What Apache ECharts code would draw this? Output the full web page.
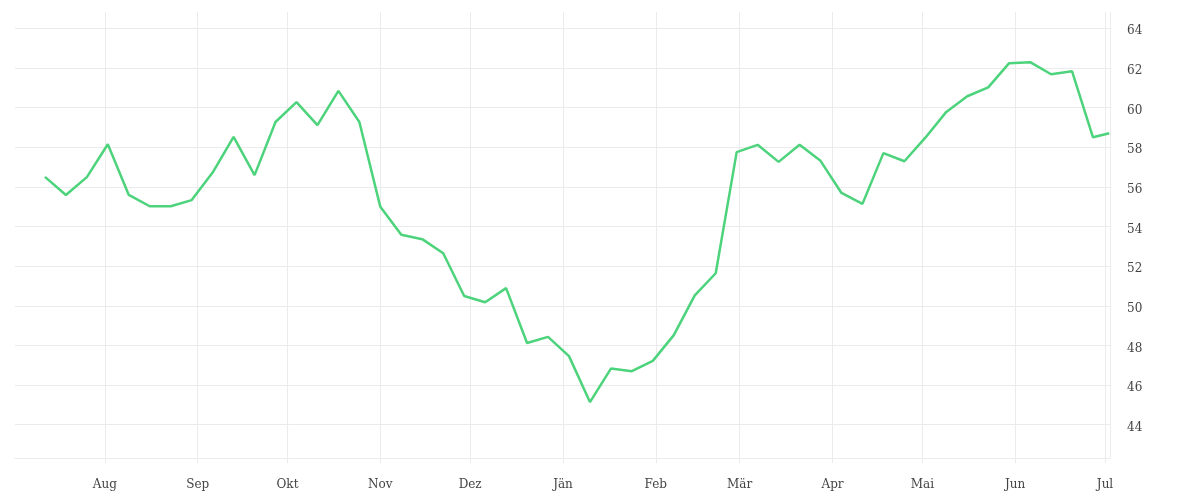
<!DOCTYPE html>
<html>
<head>
<meta charset="utf-8">
<script src="https://cdn.jsdelivr.net/npm/echarts@6/dist/echarts.min.js"></script>
<style>
html,body{margin:0;padding:0;background:#fff;}
#chart{width:1200px;height:500px;}
</style>
</head>
<body>
<div id="chart"></div>
<script>
const dates = [
  '2022-07-12','2022-07-19','2022-07-26','2022-08-02','2022-08-09','2022-08-16','2022-08-23','2022-08-30',
  '2022-09-06','2022-09-13','2022-09-20','2022-09-27','2022-10-04','2022-10-11','2022-10-18','2022-10-25',
  '2022-11-01','2022-11-08','2022-11-15','2022-11-22','2022-11-29','2022-12-06','2022-12-13','2022-12-20',
  '2022-12-27','2023-01-03','2023-01-10','2023-01-17','2023-01-24','2023-01-31','2023-02-07','2023-02-14',
  '2023-02-21','2023-02-28','2023-03-07','2023-03-14','2023-03-21','2023-03-28','2023-04-04','2023-04-11',
  '2023-04-18','2023-04-25','2023-05-02','2023-05-09','2023-05-16','2023-05-23','2023-05-30','2023-06-06',
  '2023-06-13','2023-06-20','2023-06-27','2023-07-02 10:00'
];
const values = [
  56.50,55.59,56.49,58.15,55.59,55.02,55.02,55.33,
  56.72,58.52,56.59,59.27,60.27,59.11,60.84,59.27,
  54.99,53.58,53.36,52.65,50.49,50.18,50.89,48.12,
  48.43,47.46,45.14,46.83,46.70,47.22,48.52,50.52,
  51.64,57.75,58.12,57.26,58.12,57.31,55.69,55.14,
  57.70,57.29,58.48,59.78,60.57,61.02,62.24,62.29,
  61.68,61.83,58.50,58.70
];
const monthLabels = ['Jän','Feb','Mär','Apr','Mai','Jun','Jul','Aug','Sep','Okt','Nov','Dez'];
const xRange = ['2022-07-02 00:00','2023-07-02 16:00'];
const yRange = [42.32, 64.82];

const chart = echarts.init(document.getElementById('chart'));
const gridColor = '#ebebeb';
const fontFamily = '"DejaVu Serif", "Liberation Serif", serif';
chart.setOption({
  animation: false,
  grid: { left: 15, right: 90, top: 12, bottom: 42, containLabel: false },
  xAxis: {
    type: 'time',
    min: xRange[0],
    max: xRange[1],
    splitNumber: 12,
    maxInterval: 31 * 24 * 3600 * 1000,
    minInterval: 28 * 24 * 3600 * 1000,
    axisLine: { show: true, lineStyle: { color: gridColor, width: 1 } },
    axisTick: { show: true, length: 5, lineStyle: { color: gridColor } },
    splitLine: { show: true, showMinLine: false, lineStyle: { color: gridColor, width: 1 } },
    axisLabel: {
      color: '#444',
      fontFamily: fontFamily,
      fontSize: 12,
      margin: 21,
      showMinLabel: false,
      showMaxLabel: false,
      hideOverlap: false,
      formatter: function (val) {
        const d = new Date(val);
        return d.getDate() === 1 && d.getHours() === 0 ? monthLabels[d.getMonth()] : '';
      }
    }
  },
  yAxis: {
    type: 'value',
    position: 'right',
    min: yRange[0],
    max: yRange[1],
    splitNumber: 10,
    axisLine: { show: true, lineStyle: { color: gridColor, width: 1 } },
    axisTick: { show: false },
    splitLine: { show: true, showMinLine: false, showMaxLine: false, lineStyle: { color: gridColor, width: 1 } },
    axisLabel: {
      color: '#444',
      fontFamily: fontFamily,
      fontSize: 12,
      margin: 17,
      showMinLabel: false,
      showMaxLabel: false,
      formatter: function (v) { return '{v|' + Math.round(v) + '}'; },
      rich: {
        v: { color: '#444', fontFamily: fontFamily, fontSize: 12, padding: [6, 0, 0, 0] }
      }
    }
  },
  series: [{
    type: 'line',
    data: dates.map((d, i) => [d, values[i]]),
    showSymbol: false,
    symbol: 'none',
    lineStyle: { color: '#4cd37b', width: 2.5 },
    itemStyle: { color: '#4cd37b' }
  }]
});
</script>
</body>
</html>
